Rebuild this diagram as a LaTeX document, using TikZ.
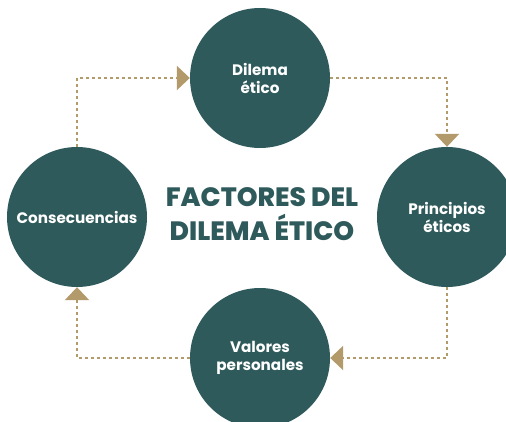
\documentclass[tikz,border=0pt]{standalone}
\usepackage{fontspec}
\setmainfont{Poppins}
\newfontfamily\heavyfont{Poppins ExtraBold}
\usetikzlibrary{arrows.meta, positioning}
\definecolor{teal}{HTML}{2F5A5B}
\definecolor{gold}{HTML}{B39A6A}

\begin{document}
\begin{tikzpicture}[
    x=1pt, y=-1pt,
    factor/.style={circle, fill=teal, minimum size=140pt, inner sep=0pt, align=center, text=white, font=\bfseries\fontsize{15.2}{18}\selectfont},
    flow/.style={-{Triangle[length=13pt, width=24pt]}, gold, line width=2.6pt, dash pattern=on 2.6pt off 3.4pt}
]
    \useasboundingbox (0,0) rectangle (506,422);
    \clip (0,0) rectangle (506,422);

    % Circles
    \node[factor] (dilema) at (260,78) {Dilema\\ético};
    \node[factor] (principios) at (447,217) {Principios\\éticos};
    \node[factor] (valores) at (260,358) {Valores\\personales};
    \node[factor] (consecuencias) at (77,217) {Consecuencias};

    % Title
    \node[text=teal, align=center, font=\heavyfont\fontsize{26.5}{34}\selectfont] (titulo) at (262,214) {FACTORES DEL\\DILEMA ÉTICO};

    % Cycle
    \draw[flow] (consecuencias.north) |- (dilema.west);
    \draw[flow] (dilema.east) -| (principios.north);
    \draw[flow] (principios.south) |- (valores.east);
    \draw[flow] (valores.west) -| (consecuencias.south);

\end{tikzpicture}
\end{document}
